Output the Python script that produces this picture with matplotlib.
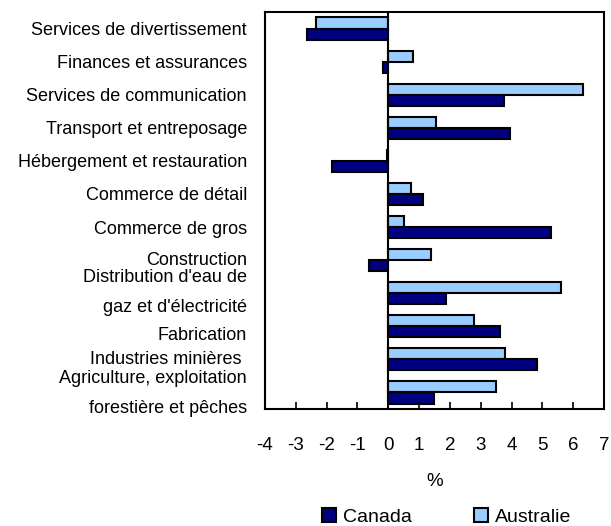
import numpy as np
import matplotlib.pyplot as plt
import matplotlib.transforms as mtransforms
from matplotlib.patches import Patch

# categories, top to bottom
categories = ["Services de divertissement", "Finances et assurances",
              "Services de communication", "Transport et entreposage",
              "Hébergement et restauration", "Commerce de détail",
              "Commerce de gros", "Construction",
              "Distribution d'eau de\ngaz et d'électricité", "Fabrication",
              "Industries minières ", "Agriculture, exploitation\nforestière et pêches"]
canada = [-2.65, -0.17, 3.76, 3.94, -1.83, 1.11, 5.27, -0.61, 1.86, 3.63, 4.82, 1.49]
australie = [-2.33, 0.8, 6.33, 1.54, -0.05, 0.73, 0.51, 1.38, 5.59, 2.77, 3.77, 3.5]
xticks = list(range(-4, 8))

plt.rcParams['font.family'] = ['Liberation Sans', 'DejaVu Sans']

fig = plt.figure(figsize=(6.11, 5.26), dpi=100)
ax = fig.add_axes([0.4337, 0.2224, 0.555, 0.7548])

y = np.arange(len(categories))
h = 0.335
ax.barh(y - h / 2, australie, height=h, color='#99ccff', edgecolor='black', linewidth=1.5)
ax.barh(y + h / 2, canada, height=h, color='#000080', edgecolor='black', linewidth=1.5)
ax.axvline(0, color='black', linewidth=1.5)

ax.set_ylim(len(categories) - 0.5, -0.5)
ax.set_xlim(-4, 7)
ax.set_yticks(y)
ax.set_yticklabels(categories, fontsize=13, linespacing=1.95)
ax.tick_params(axis='y', length=0, pad=13)

# the labels in the original sit a little off their bars (pixels, + is up)
shift = [0, 0, 0, 0, 0, 0, 0, 2, 9, -7, 2, 7]
for lab, dy in zip(ax.get_yticklabels(), shift):
    off = mtransforms.ScaledTranslation(0, dy / 100, fig.dpi_scale_trans)
    lab.set_transform(lab.get_transform() + off)

ax.set_xticks(xticks)
ax.set_xticklabels([str(t) for t in xticks], fontsize=13.5)
ax.tick_params(axis='x', direction='in', length=5, width=1.2, pad=20)
for s in ax.spines.values():
    s.set_linewidth(1.5)

ax.set_xlabel('%', fontsize=13.5, labelpad=14)

handles = [Patch(facecolor='#000080', edgecolor='black', linewidth=1.5),
           Patch(facecolor='#99ccff', edgecolor='black', linewidth=1.5)]
fig.legend(handles, ['Canada', 'Australie'], loc='center', ncol=2,
           bbox_to_anchor=(0.7316, 0.017), frameon=False, fontsize=14,
           handlelength=0.72, handleheight=0.72, handletextpad=0.35,
           columnspacing=3.2, borderpad=0)

fig.savefig('out.png', dpi=100)
